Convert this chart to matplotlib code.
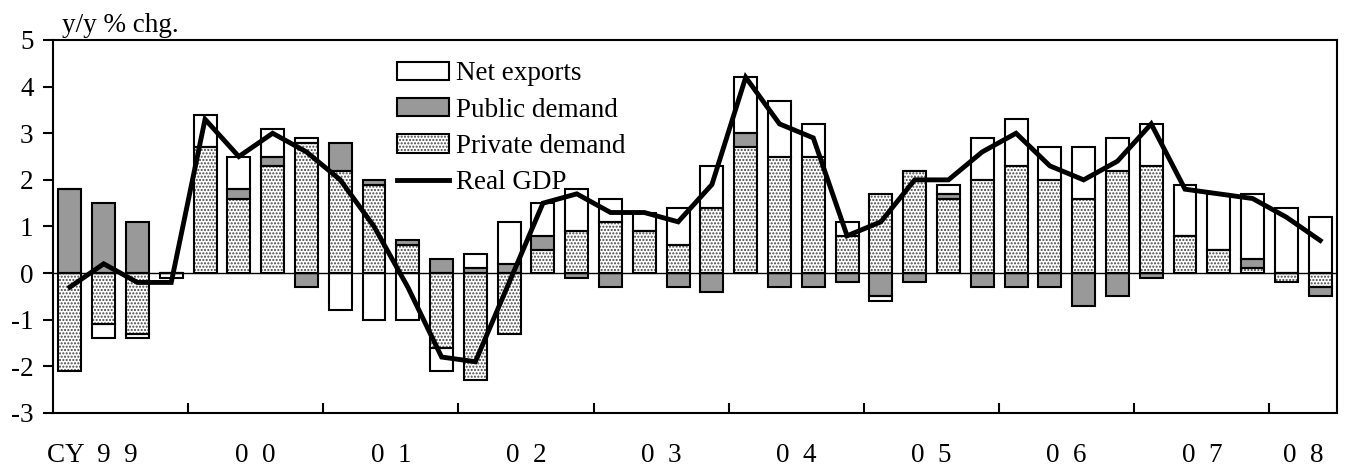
"""Real GDP growth and contributions by demand component"""
import matplotlib
matplotlib.use("Agg")
import matplotlib.pyplot as plt
import numpy as np
from matplotlib.legend_handler import HandlerTuple
from matplotlib.lines import Line2D
from matplotlib.patches import Rectangle

plt.rcParams["font.family"] = ["Liberation Serif", "DejaVu Serif"]
plt.rcParams["axes.unicode_minus"] = False
plt.rcParams["hatch.color"] = "#444444"
plt.rcParams["hatch.linewidth"] = 1.0

# quarterly, CY1999 Q1 .. CY2008 Q2 (y/y % chg. contributions)
private_demand = [-2.1, -1.1, -1.3, 0.0, 2.7, 1.6, 2.3, 2.8, 2.2, 1.9, 0.6, -1.6, -2.3, -1.3, 0.5, 0.9,
                  1.1, 0.9, 0.6, 1.4, 2.7, 2.5, 2.5, 0.8, 1.7, 2.2, 1.6, 2.0, 2.3, 2.0, 1.6, 2.2,
                  2.3, 0.8, 0.5, 0.1, -0.2, -0.3]
public_demand = [1.8, 1.5, 1.1, 0.0, 0.0, 0.2, 0.2, -0.3, 0.6, 0.1, 0.1, 0.3, 0.1, 0.2, 0.3, -0.1,
                 -0.3, 0.0, -0.3, -0.4, 0.3, -0.3, -0.3, -0.2, -0.5, -0.2, 0.1, -0.3, -0.3, -0.3, -0.7, -0.5,
                 -0.1, 0.0, 0.0, 0.2, 0.0, -0.2]
net_exports = [0.0, -0.3, -0.1, -0.1, 0.7, 0.7, 0.6, 0.1, -0.8, -1.0, -1.0, -0.5, 0.3, 0.9, 0.7, 0.9,
               0.5, 0.4, 0.8, 0.9, 1.2, 1.2, 0.7, 0.3, -0.1, 0.0, 0.2, 0.9, 1.0, 0.7, 1.1, 0.7,
               0.9, 1.1, 1.2, 1.4, 1.4, 1.2]
real_gdp = [-0.3, 0.2, -0.2, -0.2, 3.3, 2.5, 3.0, 2.6, 2.0, 1.0, -0.3, -1.8, -1.9, -0.2, 1.5, 1.7,
            1.3, 1.3, 1.1, 1.9, 4.2, 3.2, 2.9, 0.8, 1.1, 2.0, 2.0, 2.6, 3.0, 2.3, 2.0, 2.4,
            3.2, 1.8, 1.7, 1.6, 1.2, 0.7]
year_labels = ["CY  9  9", "0  0", "0  1", "0  2", "0  3", "0  4",
               "0  5", "0  6", "0  7", "0  8"]

FS = 19.5
WIDTH = 0.68
GRAY = "#999999"
HATCH = "....."

x = np.arange(len(real_gdp))
fig = plt.figure(figsize=(13.45, 4.70), dpi=100)
ax = fig.add_axes([0.0394, 0.1213, 0.9547, 0.7936])

# stack positive parts upward and negative parts downward: private, public, net exports
pos = np.zeros(len(x))
neg = np.zeros(len(x))
series = [(private_demand, "white", HATCH), (public_demand, GRAY, None), (net_exports, "white", None)]
for values, color, hatch in series:
    values = np.array(values)
    bottom = np.where(values >= 0, pos, neg)
    ax.bar(x, values, width=WIDTH, bottom=bottom, color=color, hatch=hatch, linewidth=0, zorder=2)
    ax.bar(x, values, width=WIDTH, bottom=bottom, fill=False, edgecolor="black", linewidth=1.5, zorder=3)
    pos = np.where(values >= 0, pos + values, pos)
    neg = np.where(values < 0, neg + values, neg)

ax.axhline(0, color="black", linewidth=1.0, zorder=4)
ax.plot(x, real_gdp, color="black", linewidth=3.5, solid_joinstyle="miter", zorder=5)

ax.set_xlim(-0.5, len(x) - 0.5)
ax.set_ylim(-3, 5)
ax.set_yticks(np.arange(-3, 6, 1))
ax.tick_params(axis="y", direction="out", length=7, width=1.5, labelsize=FS, pad=7)
ax.set_xticks(np.arange(3.5, len(x) - 0.5, 4))
ax.set_xticklabels([])
ax.tick_params(axis="x", direction="in", length=7, width=1.5)
for spine in ax.spines.values():
    spine.set_linewidth(1.5)

# year labels centred under each year (last year has two quarters, first label sits left)
centers = [i + 1.5 for i in range(0, len(x) - 2, 4)] + [len(x) - 1.5]
centers[0] = 0.65
for cx, label in zip(centers, year_labels):
    ax.text(cx, -0.115, label, transform=ax.get_xaxis_transform(), ha="center", va="center", fontsize=FS)

ax.text(0.007, 1.021, "y/y % chg.", transform=ax.transAxes, ha="left", va="baseline", fontsize=FS)

handles = [
    Rectangle((0, 0), 1, 1, facecolor="white", edgecolor="black", linewidth=1.5),
    Rectangle((0, 0), 1, 1, facecolor=GRAY, edgecolor="black", linewidth=1.5),
    (Rectangle((0, 0), 1, 1, facecolor="white", hatch=HATCH, linewidth=0),
     Rectangle((0, 0), 1, 1, fill=False, edgecolor="black", linewidth=1.5)),
    Line2D([], [], color="black", linewidth=3.5),
]
labels = ["Net exports", "Public demand", "Private demand", "Real GDP"]
ax.legend(handles, labels, handler_map={tuple: HandlerTuple(ndivide=1)}, loc="upper left",
          bbox_to_anchor=(0.268, 0.943), frameon=False, fontsize=FS, handlelength=1.9,
          handleheight=0.67, handletextpad=0.26, labelspacing=0.42, borderpad=0, borderaxespad=0)

fig.savefig("out.png", dpi=100)
